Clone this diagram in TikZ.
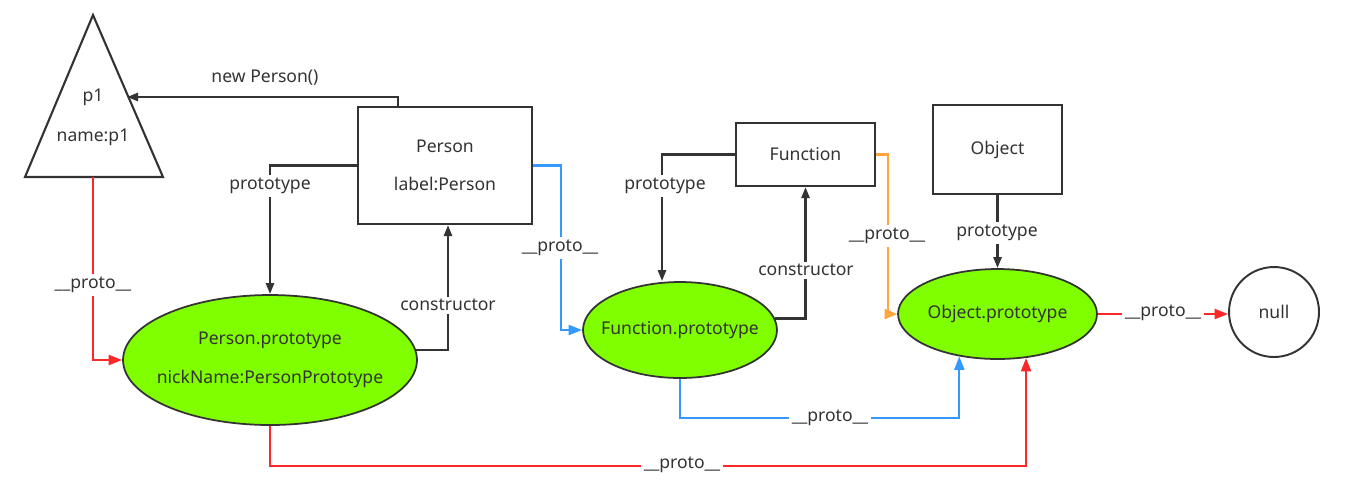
\documentclass[tikz,border=0pt]{standalone}
\usepackage{fontspec}
\setmainfont{Noto Sans}
\usetikzlibrary{positioning, arrows.meta, shapes.geometric}
\definecolor{jsgrn}{RGB}{127,255,0}
\definecolor{jsblu}{RGB}{51,153,255}
\definecolor{jsred}{RGB}{250,40,40}
\definecolor{jsorg}{RGB}{255,165,60}
\definecolor{jsdark}{RGB}{51,51,51}

\begin{document}
\begin{tikzpicture}[x=0.02cm, y=-0.02cm,
    every node/.style={font=\fontsize{10}{12}\selectfont, text=jsdark},
    objbox/.style={draw=jsdark, line width=1.2pt, rectangle, inner sep=0pt, align=center},
    protoell/.style={draw=jsdark, fill=jsgrn, ellipse, line width=1pt, inner sep=0pt},
    ptext/.style={align=center},
    lbl/.style={fill=white, inner sep=1.5pt},
    link/.style={draw=jsdark, line width=1.4pt, -{Triangle[length=0.22cm,width=0.16cm]}},
    redlink/.style={draw=jsred, line width=1.3pt, -{Triangle[length=0.27cm,width=0.2cm]}},
    blulink/.style={draw=jsblu, line width=1.3pt, -{Triangle[length=0.27cm,width=0.2cm]}},
    orglink/.style={draw=jsorg, line width=1.3pt, -{Triangle[length=0.25cm,width=0.2cm]}}]
  \useasboundingbox (0,0) rectangle (1361,485);

  % p1 instance
  \coordinate (p1top) at (93,15);
  \coordinate (p1left) at (25,177);
  \coordinate (p1right) at (163,177);
  \coordinate (p1base) at (93,177);
  \coordinate (p1edge) at (127,97);
  \draw[draw=jsdark, line width=1.2pt, line join=miter] (p1top) -- (p1right) -- (p1left) -- cycle;
  \node (p1name) at (93,97) {p1};
  \node (p1prop) at (93,137) {name:p1};

  % constructors
  \node[objbox, minimum width=3.48cm, minimum height=2.34cm] (pbox) at (445,165.5)
    {Person\\[10pt]label:Person};
  \node[objbox, minimum width=2.78cm, minimum height=1.26cm] (fbox) at (805.5,154.5) {Function};
  \node[objbox, minimum width=2.58cm, minimum height=1.78cm] (obox) at (997.5,149.5) {Object};

  % prototypes
  \node[protoell, minimum width=5.88cm, minimum height=2.6cm] (pproto) at (270,360) {};
  \node[ptext] (pprototxt) at (pproto.center) {Person.prototype\\[10pt]nickName:PersonPrototype};
  \node[protoell, minimum width=3.88cm, minimum height=1.92cm] (fproto) at (680,330) {};
  \node[ptext] (fprototxt) at (fproto.center) {Function.prototype};
  \node[protoell, minimum width=3.98cm, minimum height=1.8cm] (oproto) at (997.5,314) {};
  \node[ptext] (oprototxt) at (oproto.center) {Object.prototype};
  \node[draw=jsdark, line width=1.1pt, circle, minimum size=1.8cm, inner sep=0pt] (null) at (1274,312) {null};

  % black links
  \draw[link] ([xshift=-0.94cm]pbox.north) |- (p1edge);
  \draw[link] (pbox.west) -| (pproto.north);
  \draw[link] (pproto.4) -| ([xshift=0.06cm]pbox.south);
  \draw[link] (fbox.west) -| ([xshift=-0.36cm]fproto.north);
  \draw[link] (fproto.7) -| (fbox.south);
  \draw[link] (obox.south) -- (oproto.north);

  % __proto__ links
  \draw[redlink] (p1base) |- (pproto.west);
  \draw[blulink] (pbox.east) -- ++(28,0) |- (fproto.west);
  \draw[orglink] (fbox.east) -- ++(12,0) |- (oproto.west);
  \draw[redlink] (oproto.east) -- (oproto.east -| null.west);
  \draw[blulink] (fproto.south) -- ++(0,39) -| (oproto.228);
  \draw[redlink] (pproto.south) -- ++(0,40) -| (oproto.303);

  % labels
  \node (lnew) at (265,78) {new Person()};
  \node[lbl] (lpp) at (270,186) {prototype};
  \node[lbl] (lpc) at (448,305) {constructor};
  \node[lbl] (lfp) at (665,186) {prototype};
  \node[lbl] (lfc) at (806,270) {constructor};
  \node[lbl] (lop) at (997,233) {prototype};
  \node[lbl] (lr1) at (93,285) {\_\_proto\_\_};
  \node[lbl] (lb1) at (560,248) {\_\_proto\_\_};
  \node[lbl] (lo1) at (887,236) {\_\_proto\_\_};
  \node[lbl] (lr2) at (1163,313) {\_\_proto\_\_};
  \node[lbl] (lb2) at (830,418) {\_\_proto\_\_};
  \node[lbl] (lr3) at (682,465) {\_\_proto\_\_};
\end{tikzpicture}
\end{document}
